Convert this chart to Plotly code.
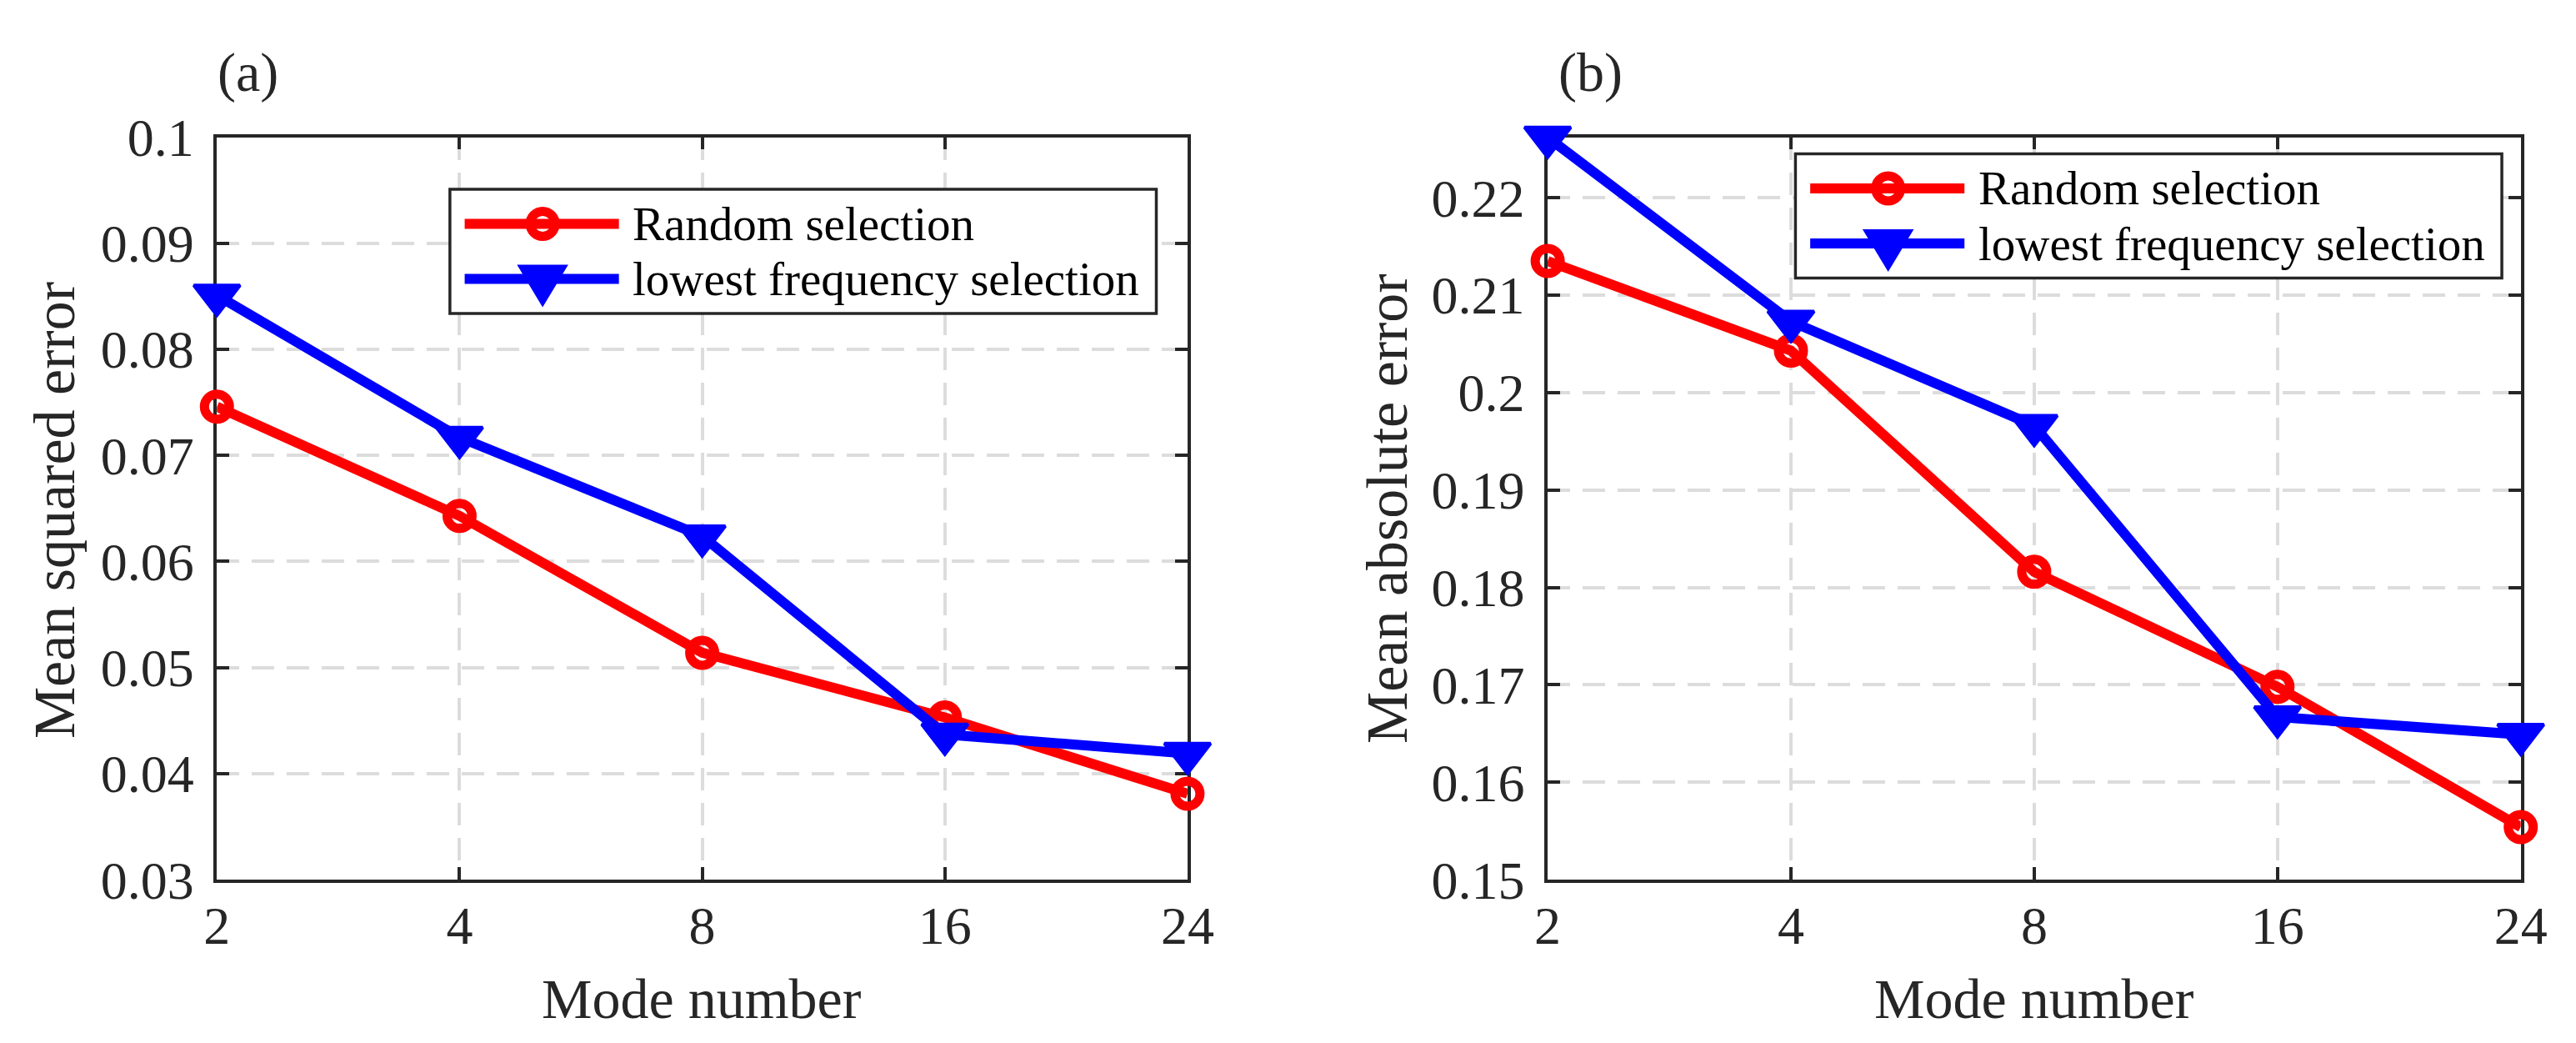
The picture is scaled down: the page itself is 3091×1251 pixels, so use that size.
import plotly.graph_objects as go

W, H = 3091, 1251

# data
modes = ["2", "4", "8", "16", "24"]
mse_random = [0.0746, 0.0643, 0.0514, 0.0453, 0.0381]
mse_lowest = [0.0851, 0.0717, 0.0624, 0.0437, 0.0419]
mae_random = [0.2135, 0.2043, 0.1816, 0.1698, 0.1554]
mae_lowest = [0.2262, 0.2073, 0.1966, 0.1667, 0.1649]

mse_ticks = [0.03, 0.04, 0.05, 0.06, 0.07, 0.08, 0.09, 0.1]
mse_ticktext = ["0.03", "0.04", "0.05", "0.06", "0.07", "0.08", "0.09", "0.1"]
mae_ticks = [0.15, 0.16, 0.17, 0.18, 0.19, 0.2, 0.21, 0.22]
mae_ticktext = ["0.15", "0.16", "0.17", "0.18", "0.19", "0.2", "0.21", "0.22"]

names = ["Random selection", "lowest frequency selection"]
colors = ["#ff0000", "#0000ff"]

FONT = "Liberation Serif"
AX = "#262626"


def px(x):
    return x / W


def py(y):
    return 1 - y / H


fig = go.Figure()

for xa, ya, series in [("x", "y", (mse_random, mse_lowest)),
                       ("x2", "y2", (mae_random, mae_lowest))]:
    fig.add_trace(go.Scatter(
        x=modes, y=series[0], xaxis=xa, yaxis=ya, mode="lines+markers",
        line=dict(color=colors[0], width=12),
        marker=dict(symbol="circle-open", size=30,
                    line=dict(color=colors[0], width=11)),
        cliponaxis=False, showlegend=False, hoverinfo="skip"))
    fig.add_trace(go.Scatter(
        x=modes, y=series[1], xaxis=xa, yaxis=ya, mode="lines+markers",
        line=dict(color=colors[1], width=12),
        marker=dict(symbol="triangle-down", size=48, color=colors[1],
                    line=dict(color=colors[1], width=4)),
        cliponaxis=False, showlegend=False, hoverinfo="skip"))

axis_style = dict(
    showline=True, linecolor=AX, linewidth=3.5, mirror="ticks",
    ticks="inside", ticklen=15, tickwidth=3.5, tickcolor=AX,
    showgrid=True, gridcolor="#dcdcdc", gridwidth=3.5, griddash="27px,15px",
    zeroline=False, layer="below traces",
    tickfont=dict(family=FONT, size=64, color=AX),
)

ydom = [py(1073), py(129)]
fig.update_layout(
    width=W, height=H,
    margin=dict(l=0, r=0, t=0, b=0),
    paper_bgcolor="white", plot_bgcolor="white",
    showlegend=False, hovermode=False,
    xaxis=dict(axis_style, domain=[px(240), px(1423)], anchor="y",
               type="category", range=[0, 4], ticklabelstandoff=-4),
    yaxis=dict(axis_style, domain=ydom, anchor="x", range=[0.03, 0.1],
               tickvals=mse_ticks, ticktext=mse_ticktext, ticklabelstandoff=11),
    xaxis2=dict(axis_style, domain=[px(1862), px(3048)], anchor="y2",
                type="category", range=[0, 4], ticklabelstandoff=-4),
    yaxis2=dict(axis_style, domain=ydom, anchor="x2", range=[0.15, 0.2262],
                tickvals=mae_ticks, ticktext=mae_ticktext, ticklabelstandoff=11),
)

# titles and axis labels
texts = [
    ("(a)", 278, 47, 0, 66),
    ("(b)", 1914, 47, 0, 66),
    ("Mode number", 831, 1224, 0, 68),
    ("Mode number", 2455, 1224, 0, 68),
    ("Mean squared error", 42, 603, -90, 70),
    ("Mean absolute error", 1667, 601, -90, 70),
]
for t, x, y, ang, size in texts:
    fig.add_annotation(text=t, x=px(x), y=py(y), xref="paper", yref="paper",
                       xanchor="center", yanchor="middle", textangle=ang,
                       showarrow=False, font=dict(family=FONT, size=size, color=AX))


# MATLAB style legend boxes with long line samples
def add_legend(left, top):
    fig.add_shape(type="rect", xref="paper", yref="paper",
                  x0=px(left), x1=px(left + 861), y0=py(top), y1=py(top + 158),
                  line=dict(color=AX, width=3.5), fillcolor="white", layer="above")
    for i, (name, col) in enumerate(zip(names, colors)):
        cy = top + 44 + i * 70
        fig.add_shape(type="line", xref="paper", yref="paper",
                      x0=px(left + 18), x1=px(left + 206), y0=py(cy), y1=py(cy),
                      line=dict(color=col, width=12), layer="above")
        if i == 0:
            fig.add_shape(type="circle", xref="paper", yref="paper",
                          xsizemode="pixel", ysizemode="pixel",
                          xanchor=px(left + 113), yanchor=py(cy),
                          x0=-15, x1=15, y0=-15, y1=15,
                          line=dict(color=col, width=11),
                          fillcolor="rgba(0,0,0,0)", layer="above")
        else:
            fig.add_shape(type="path", xref="paper", yref="paper",
                          xsizemode="pixel", ysizemode="pixel",
                          xanchor=px(left + 113), yanchor=py(cy),
                          path="M-29,16 L29,16 L0,-32 Z",
                          line=dict(color=col, width=2), fillcolor=col, layer="above")
        fig.add_annotation(text=name, x=px(left + 221), y=py(cy),
                           xref="paper", yref="paper", xanchor="left", yanchor="middle",
                           showarrow=False, font=dict(family=FONT, size=57, color="black"))


add_legend(524, 195)
add_legend(2164, 150)

fig.write_html("out.html")
